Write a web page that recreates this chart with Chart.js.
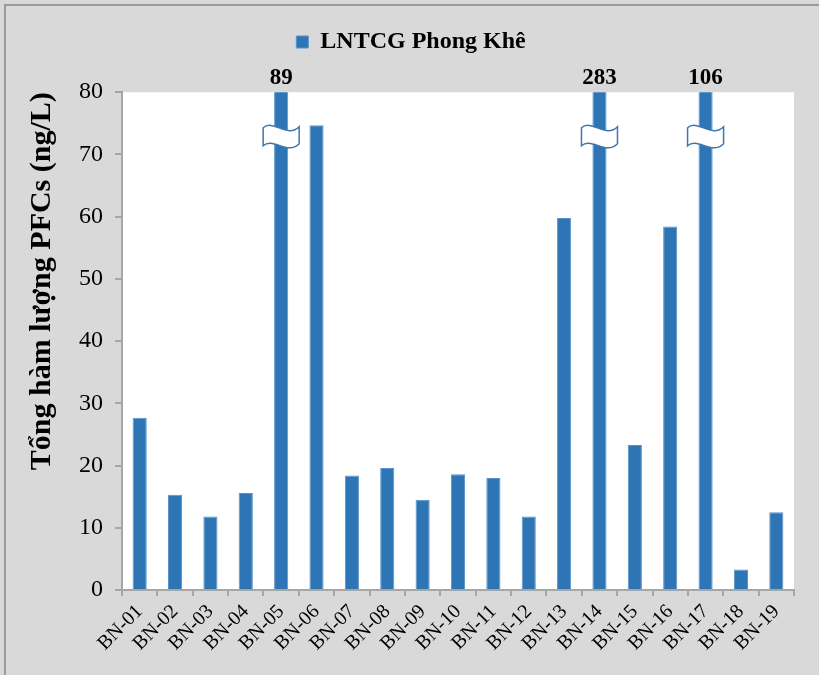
<!DOCTYPE html>
<html><head><meta charset="utf-8">
<script src="https://cdn.jsdelivr.net/npm/chart.js@4.4.1/dist/chart.umd.min.js"></script>
<style>
html,body{margin:0;padding:0;background:#d9d9d9;}
#wrap{position:relative;width:819px;height:675px;overflow:hidden;}
#frame{position:absolute;left:4px;top:4px;width:900px;height:800px;border-top:2px solid #9a9a9a;border-left:2px solid #9a9a9a;pointer-events:none;}
canvas{position:absolute;left:0;top:0;}
</style></head><body>
<div id="wrap"><canvas id="c" width="819" height="675"></canvas><div id="frame"></div></div>
<script>
const categories = ['BN-01','BN-02','BN-03','BN-04','BN-05','BN-06','BN-07','BN-08','BN-09','BN-10','BN-11','BN-12','BN-13','BN-14','BN-15','BN-16','BN-17','BN-18','BN-19'];
const seriesName = 'LNTCG Phong Khê';
const values = [27.7, 15.3, 11.8, 15.6, 89, 74.7, 18.4, 19.6, 14.5, 18.6, 18.0, 11.8, 59.8, 283, 23.3, 58.4, 106, 3.3, 12.5];
const yTickValues = [0, 10, 20, 30, 40, 50, 60, 70, 80];
const axisMax = 80;
const breakAt = 73;
const yTitle = 'Tổng hàm lượng PFCs (ng/L)';

const FONT = '"Liberation Serif", "Times New Roman", serif';
const BLUE = '#2e75b6';
const AXIS = '#a6a6a6';

const plotBg = {
  id: 'plotBg',
  beforeDraw(chart) {
    const {ctx, chartArea: a} = chart;
    ctx.save();
    ctx.fillStyle = '#ffffff';
    ctx.fillRect(a.left, a.top, a.right - a.left, a.bottom - a.top);
    ctx.restore();
  }
};

const breaks = {
  id: 'breaks',
  afterDatasetsDraw(chart) {
    const {ctx, chartArea: a} = chart;
    const meta = chart.getDatasetMeta(0);
    const ys = chart.scales.y;
    ctx.save();
    values.forEach((v, i) => {
      if (v <= axisMax) return;
      const bar = meta.data[i];
      const cx = bar.x;
      const cy = ys.getPixelForValue(breakAt);
      ctx.beginPath();
      ctx.moveTo(cx - 18, cy - 8);
      ctx.bezierCurveTo(cx - 8, cy - 17, cx + 6, cy + 3, cx + 18, cy - 9);
      ctx.lineTo(cx + 18, cy + 8);
      ctx.bezierCurveTo(cx + 6, cy + 20, cx - 8, cy + 1, cx - 18, cy + 10);
      ctx.closePath();
      ctx.fillStyle = '#ffffff';
      ctx.fill();
      ctx.lineWidth = 1.5;
      ctx.strokeStyle = '#3f76b0';
      ctx.stroke();
      ctx.fillStyle = '#000000';
      ctx.font = 'bold 23px ' + FONT;
      ctx.textAlign = 'center';
      ctx.textBaseline = 'alphabetic';
      ctx.fillText(String(v), cx, a.top - 8);
    });
    ctx.restore();
  }
};

new Chart(document.getElementById('c'), {
  type: 'bar',
  data: {
    labels: categories,
    datasets: [{
      label: seriesName,
      data: values,
      backgroundColor: BLUE,
      borderColor: '#5a93cc',
      borderWidth: 1,
      barPercentage: 0.4,
      categoryPercentage: 1.0,
      clip: 0
    }]
  },
  options: {
    responsive: false,
    animation: false,
    devicePixelRatio: 1,
    layout: { padding: { top: 20, left: 28, right: 25, bottom: 0 } },
    plugins: {
      legend: {
        display: true,
        position: 'top',
        labels: {
          boxWidth: 12, boxHeight: 12, padding: 10,
          color: '#000000',
          font: { family: FONT, size: 24, weight: 'bold' }
        }
      },
      subtitle: {
        display: true, text: '', weight: 500,
        font: { size: 1 }, padding: { top: 0, bottom: 27 }
      },
      tooltip: { enabled: false }
    },
    scales: {
      x: {
        grid: { display: true, drawOnChartArea: false, drawTicks: true, tickLength: 6, color: AXIS, lineWidth: 2, offset: true },
        border: { display: true, color: AXIS, width: 2 },
        ticks: {
          autoSkip: false, maxRotation: 45, minRotation: 45, padding: 4,
          color: '#000000', font: { family: FONT, size: 20 }
        },
        afterFit(s) { s.height = 85; }
      },
      y: {
        min: 0, max: axisMax,
        afterBuildTicks(s) { s.ticks = yTickValues.map(v => ({ value: v })); },
        grid: { display: true, drawOnChartArea: false, drawTicks: true, tickLength: 7, color: AXIS, lineWidth: 2 },
        border: { display: true, color: AXIS, width: 2 },
        ticks: { padding: 12, color: '#000000', font: { family: FONT, size: 24 } },
        title: {
          display: true, text: yTitle, color: '#000000', align: 'end',
          font: { family: FONT, size: 30, weight: 'bold' },
          padding: { top: -4, bottom: 0 }
        },
        afterFit(s) { s.width = 94; }
      }
    }
  },
  plugins: [plotBg, breaks]
});
</script>
</body></html>
